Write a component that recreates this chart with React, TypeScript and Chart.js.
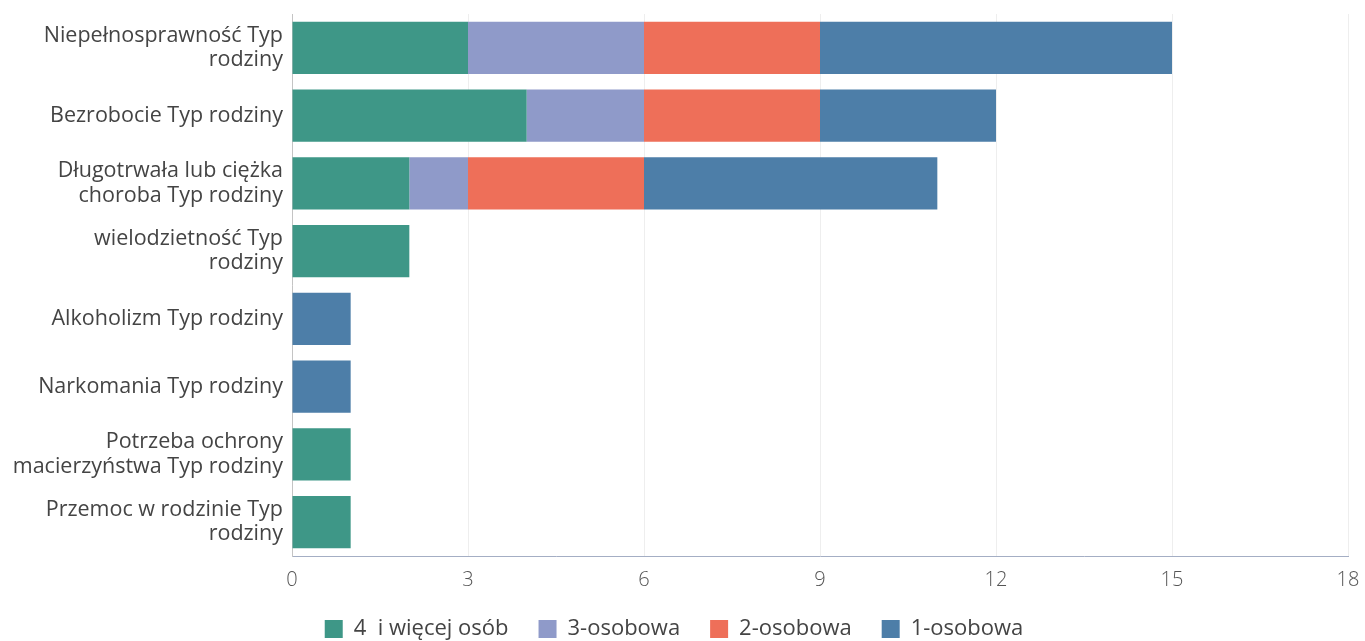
import React, { useEffect, useRef } from "react";
import { Chart, registerables } from "chart.js";

Chart.register(...registerables);

const categories: string[][] = [
  ["Niepełnosprawność Typ", "rodziny"],
  ["Bezrobocie Typ rodziny"],
  ["Długotrwała lub ciężka", "choroba Typ rodziny"],
  ["wielodzietność Typ", "rodziny"],
  ["Alkoholizm Typ rodziny"],
  ["Narkomania Typ rodziny"],
  ["Potrzeba ochrony", "macierzyństwa Typ rodziny"],
  ["Przemoc w rodzinie Typ", "rodziny"],
];

const seriesNames = ["4  i więcej osób", "3-osobowa", "2-osobowa", "1-osobowa"];
const fourPlus = [3, 4, 2, 2, 0, 0, 1, 1];
const threePerson = [3, 2, 1, 0, 0, 0, 0, 0];
const twoPerson = [3, 3, 3, 0, 0, 0, 0, 0];
const onePerson = [6, 3, 5, 0, 1, 1, 0, 0];
const seriesColors = ["#3e9787", "#8f9ac9", "#ee6f59", "#4d7ea8"];
const xTicks = [0, 3, 6, 9, 12, 15, 18];

export default function App() {
  const canvasRef = useRef<HTMLCanvasElement | null>(null);

  useEffect(() => {
    document.body.style.margin = "0";
    const canvas = canvasRef.current;
    if (!canvas) return;
    const values = [fourPlus, threePerson, twoPerson, onePerson];
    const chart = new Chart(canvas, {
      type: "bar",
      data: {
        labels: categories,
        datasets: values.map((v, i) => ({
          label: seriesNames[i],
          data: v,
          backgroundColor: seriesColors[i],
          borderWidth: 0,
          categoryPercentage: 0.77,
          barPercentage: 1,
        })),
      },
      options: {
        indexAxis: "y",
        animation: false,
        responsive: false,
        maintainAspectRatio: false,
        layout: { padding: { top: 14, right: 17, left: 0, bottom: -9 } },
        plugins: {
          tooltip: { enabled: false },
          legend: {
            position: "bottom",
            labels: {
              font: { family: "'Open Sans'", size: 22 },
              color: "#444",
              boxWidth: 18,
              boxHeight: 18,
              padding: 30,
            },
          },
        },
        scales: {
          x: {
            stacked: true,
            min: 0,
            max: 18,
            afterBuildTicks: (scale: any) => {
              scale.ticks = xTicks.map((v) => ({ value: v }));
            },
            afterFit: (scale: any) => {
              scale.height = 32;
              scale.paddingLeft = 0;
              scale.paddingRight = 0;
            },
            grid: { color: "#eeeeee", drawTicks: false },
            border: { color: "#a4aec4", width: 1 },
            ticks: {
              font: { family: "'Open Sans'", size: 20, weight: 300 as any },
              color: "#555",
              padding: 12,
            },
          },
          y: {
            stacked: true,
            afterFit: (scale: any) => {
              scale.width = 292;
              scale.paddingTop = 0;
              scale.paddingBottom = 0;
            },
            grid: { display: false },
            border: { color: "#c4c4c4", width: 1 },
            ticks: {
              font: { family: "'Open Sans'", size: 21.5, lineHeight: 1.12 },
              color: "#444",
              padding: 1,
            },
          },
        },
      },
    });
    return () => chart.destroy();
  }, []);

  return (
    <div style={{ width: 1365, height: 641, background: "#fff" }}>
      <canvas ref={canvasRef} width={1365} height={641} style={{ display: "block" }} />
    </div>
  );
}
